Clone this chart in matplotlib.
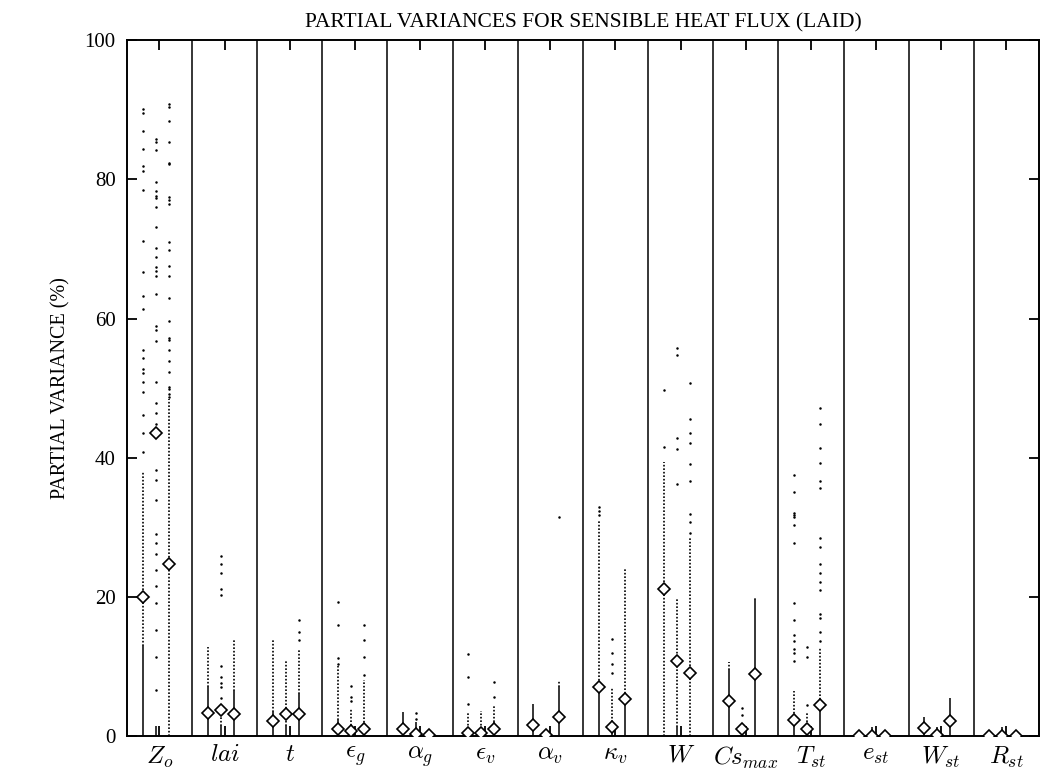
import numpy as np
import matplotlib
matplotlib.use('Agg')
import matplotlib.pyplot as plt

plt.rcParams['font.family'] = 'Liberation Serif'
plt.rcParams['mathtext.fontset'] = 'cm'

# parameter names (one column per parameter, three runs per column)
labels = [r'$Z_o$', r'$lai$', r'$t$', r'$\epsilon_g$', r'$\alpha_g$', r'$\epsilon_v$',
          r'$\alpha_v$', r'$\kappa_v$', r'$W$', r'$Cs_{max}$', r'$T_{st}$',
          r'$e_{st}$', r'$W_{st}$', r'$R_{st}$']

# mean partial variance (diamonds), runs 1..3
mean_1 = [20.0, 3.3, 2.2, 1.05, 1.0, 0.5, 1.6, 7.0, 21.2, 5.0, 2.3, 0.05, 1.15, 0.05]
mean_2 = [43.6, 3.8, 3.2, 0.8, 0.3, 0.4, 0.1, 1.25, 10.8, 1.0, 1.0, 0.05, 0.2, 0.05]
mean_3 = [24.8, 3.2, 3.2, 1.0, 0.1, 1.0, 2.7, 5.3, 9.0, 8.9, 4.4, 0.05, 2.2, 0.05]

# top of the solid (saturated) part of each dot column
solid_1 = [13.0, 7.0, 3.5, 2.3, 3.5, 1.0, 4.6, 6.5, 0.0, 9.5, 2.8, 0.0, 2.7, 0.0]
solid_2 = [1.4, 1.5, 1.5, 1.0, 2.0, 1.0, 0.0, 1.0, 1.3, 1.5, 1.0, 1.3, 1.3, 1.3]
solid_3 = [0.0, 6.5, 6.0, 1.5, 0.0, 2.0, 7.1, 5.6, 0.0, 19.5, 3.7, 0.0, 5.4, 0.0]

# top of the densely dotted part
dotted_1 = [38.0, 12.8, 13.8, 10.0, 0.0, 3.5, 0.0, 31.0, 39.4, 10.7, 6.5, 0.0, 0.0, 0.0]
dotted_2 = [0.0, 4.5, 10.8, 4.0, 0.0, 3.6, 0.0, 7.0, 19.8, 0.0, 3.5, 0.0, 0.0, 0.0]
dotted_3 = [48.5, 13.8, 12.5, 8.0, 0.0, 4.5, 8.0, 24.1, 28.5, 20.0, 12.8, 0.0, 0.0, 0.0]

# isolated points above the dotted part
sparse_zo = [[40.8, 43.5, 46.1, 49.5, 50.9, 52.2, 52.7, 54.4, 55.5, 61.4, 63.3, 66.7, 71.1,
              78.5, 81.2, 81.9, 84.3, 87.0, 89.5, 90.1],
             [6.6, 11.4, 15.2, 19.1, 21.5, 23.9, 26.2, 27.7, 29.1, 33.9, 36.8, 38.2, 44.9, 46.4,
              47.8, 50.9, 56.8, 58.3, 59.0, 63.5, 66.1, 66.9, 67.4, 68.9, 70.2, 73.1, 76.1,
              77.4, 77.6, 78.3, 79.6, 84.2, 85.4, 85.8],
             [48.7, 49.2, 49.9, 50.2, 52.3, 53.9, 55.5, 56.9, 57.2, 59.6, 63.0, 66.1, 67.5,
              69.8, 71.0, 76.4, 77.0, 77.5, 82.2, 82.4, 85.4, 88.4, 90.4, 90.9]]
sparse_lai = [[], [5.5, 7.1, 7.6, 8.5, 10.0, 20.3, 21.1, 23.4, 24.8, 25.9], []]
sparse_t = [[], [], [13.8, 15.0, 16.7]]
sparse_eg = [[10.4, 11.2, 16.0, 19.2], [5.1, 5.6, 7.2], [8.8, 11.4, 13.8, 15.9]]
sparse_ag = [[], [2.5, 3.3], []]
sparse_ev = [[4.6, 8.5, 11.8], [], [5.6, 7.7]]
sparse_av = [[], [], [31.5]]
sparse_kv = [[31.8, 32.3, 32.9], [9.0, 10.4, 11.9, 14.0], []]
sparse_w = [[41.6, 49.8], [36.2, 41.3, 42.8, 54.8, 55.8],
            [29.2, 30.8, 31.9, 36.7, 39.1, 42.1, 43.6, 45.6, 50.8]]
sparse_cs = [[], [3.0, 4.0], []]
sparse_tst = [[10.8, 11.9, 12.5, 13.6, 14.5, 16.7, 19.1, 27.7, 30.3, 31.5, 31.8, 32.1, 35.1, 37.5],
              [4.5, 11.4, 12.8],
              [13.6, 15.0, 16.9, 17.6, 21.0, 22.2, 23.4, 24.8, 27.2, 28.4, 35.7, 36.6, 39.2,
               41.4, 44.8, 47.2]]
sparse_est = [[], [], []]
sparse_wst = [[], [], []]
sparse_rst = [[], [], []]

sparse = [sparse_zo, sparse_lai, sparse_t, sparse_eg, sparse_ag, sparse_ev, sparse_av,
          sparse_kv, sparse_w, sparse_cs, sparse_tst, sparse_est, sparse_wst, sparse_rst]

means = [mean_1, mean_2, mean_3]
solids = [solid_1, solid_2, solid_3]
dotteds = [dotted_1, dotted_2, dotted_3]
offsets = [-0.26, -0.06, 0.14]

fig = plt.figure(figsize=(10.4, 7.74), dpi=100)
ax = fig.add_axes([0.122, 0.049, 0.877, 0.899])

npar = len(labels)
xc = np.arange(1, npar + 1)

for i in range(npar):
    for k in range(3):
        x = xc[i] + offsets[k]
        s = solids[k][i]
        d = dotteds[k][i]
        if d > s:
            ax.vlines(x, s, d, colors='k', linewidth=1.2, linestyles=(0, (1, 1.1)))
        if s > 0:
            ax.vlines(x, 0, s, colors='k', linewidth=1.1)
        pts = sparse[i][k]
        if len(pts) > 0:
            ax.plot([x] * len(pts), pts, 'o', color='k', ms=1.8, mew=0)
        ax.plot(x, means[k][i], 'D', ms=6.5, mfc='white', mec='k', mew=1.2, zorder=5)

# column separators
for b in xc[:-1] + 0.5:
    ax.axvline(b, color='k', linewidth=1.1)

ax.set_xlim(0.5, npar + 0.5)
ax.set_ylim(0, 100)
ax.set_xticks(xc)
ax.set_xticklabels(labels, fontsize=18)
ax.set_yticks(np.arange(0, 101, 20))
ax.tick_params(axis='y', labelsize=15, direction='in', length=7, width=1.3, right=True, pad=8)
ax.tick_params(axis='x', direction='in', length=7, width=1.3, top=True, pad=6)
for sp in ax.spines.values():
    sp.set_linewidth(1.4)

ax.set_ylabel('PARTIAL VARIANCE (%)', fontsize=14.5, labelpad=10)
ax.set_title('PARTIAL VARIANCES FOR SENSIBLE HEAT FLUX (LAID)', fontsize=15.5, pad=9)

plt.savefig('out.png', dpi=100)
